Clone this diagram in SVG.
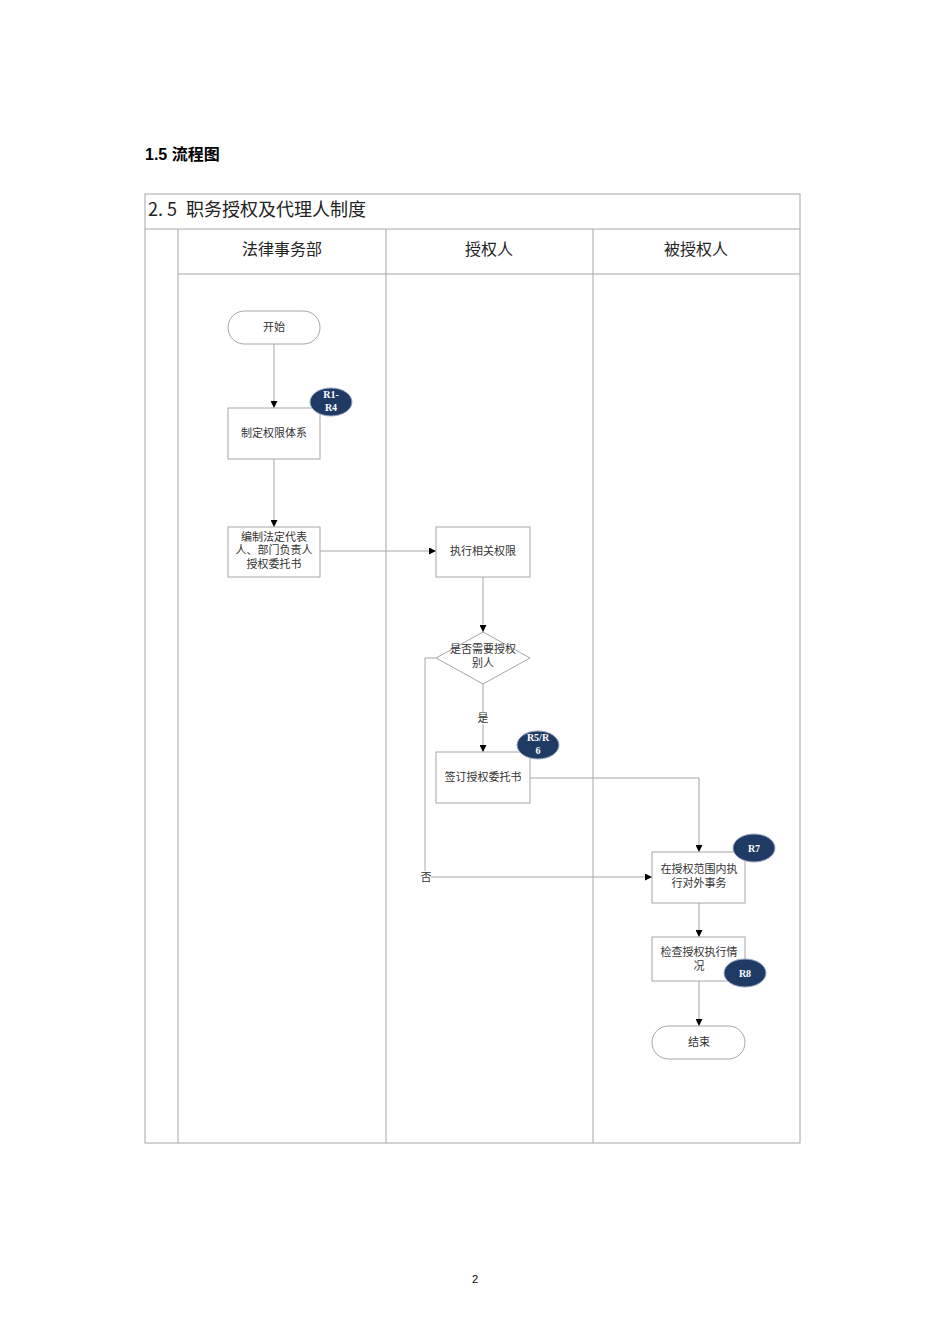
<svg xmlns="http://www.w3.org/2000/svg" width="950" height="1344" viewBox="0 0 950 1344">
<style>
.frame{fill:none;stroke:#a6a6a6;stroke-width:1}
.node{fill:#fff;stroke:#a6a6a6;stroke-width:1}
.t{font-family:"Liberation Serif","Noto Sans CJK SC",serif;font-size:11px;fill:#333;text-anchor:middle}
.h{font-family:"Noto Sans CJK SC",sans-serif;font-size:16px;fill:#222;text-anchor:middle}
.badge{fill:#1f3a64;stroke:#9aa8bf;stroke-width:1}
.bt{font-family:"Liberation Serif",serif;font-size:10px;font-weight:bold;fill:#fff;text-anchor:middle}
.c{fill:none;stroke:#a6a6a6;stroke-width:1}
</style>
<defs>
<marker id="arr" viewBox="0 0 10 10" refX="10" refY="5" markerWidth="7" markerHeight="7" orient="auto" markerUnits="userSpaceOnUse">
<path d="M0,0 L10,5 L0,10 z" fill="#000"/>
</marker>
</defs>
<rect width="950" height="1344" fill="#fff"/>
<text x="145" y="160" font-family="Liberation Sans,Noto Sans CJK SC,sans-serif" font-size="16" font-weight="bold" fill="#000">1.5 流程图</text>
<g id="frame">
<rect class="frame" x="145" y="194" width="655" height="949"/>
<line class="frame" x1="145" y1="229" x2="800" y2="229"/>
<line class="frame" x1="178" y1="229" x2="178" y2="1143"/>
<line class="frame" x1="178" y1="274" x2="800" y2="274"/>
<line class="frame" x1="386" y1="229" x2="386" y2="1143"/>
<line class="frame" x1="593" y1="229" x2="593" y2="1143"/>
<text x="148" y="216" font-family="Noto Sans CJK SC,sans-serif" font-size="18" fill="#222"><tspan>2. 5</tspan><tspan x="186">职务授权及代理人制度</tspan></text>
<text class="h" x="282" y="255">法律事务部</text>
<text class="h" x="489" y="255">授权人</text>
<text class="h" x="696" y="255">被授权人</text>
</g>
<g id="connectors">
<line class="c" x1="274" y1="344" x2="274" y2="408" marker-end="url(#arr)"/>
<line class="c" x1="274" y1="459" x2="274" y2="527" marker-end="url(#arr)"/>
<line class="c" x1="320" y1="551" x2="436" y2="551" marker-end="url(#arr)"/>
<line class="c" x1="483" y1="577" x2="483" y2="632" marker-end="url(#arr)"/>
<line class="c" x1="483" y1="684" x2="483" y2="752" marker-end="url(#arr)"/>
<rect x="478" y="712" width="10" height="12" fill="#fff"/>
<text class="t" x="483" y="722" font-size="9">是</text>
<polyline class="c" points="436,658 425,658 425,877 652,877" marker-end="url(#arr)"/>
<rect x="420" y="871" width="11" height="12" fill="#fff"/>
<text class="t" x="426" y="881" font-size="9">否</text>
<polyline class="c" points="530,778 699,778 699,852" marker-end="url(#arr)"/>
<line class="c" x1="699" y1="903" x2="699" y2="937" marker-end="url(#arr)"/>
<line class="c" x1="699" y1="981" x2="699" y2="1026" marker-end="url(#arr)"/>
</g>
<g id="n-start">
<rect class="node" x="228" y="311" width="92" height="33" rx="16.5"/>
<text class="t" x="274" y="331">开始</text>
</g>
<g id="n-zhiding">
<rect class="node" x="228" y="408" width="92" height="51"/>
<text class="t" x="274" y="437">制定权限体系</text>
</g>
<g id="b-r1r4">
<ellipse class="badge" cx="331" cy="402" rx="21" ry="14"/>
<text class="bt" x="331" y="398">R1-</text>
<text class="bt" x="331" y="411">R4</text>
</g>
<g id="n-bianzhi">
<rect class="node" x="228" y="527" width="92" height="50"/>
<text class="t" x="274" y="541">编制法定代表</text>
<text class="t" x="274" y="554">人、部门负责人</text>
<text class="t" x="274" y="568">授权委托书</text>
</g>
<g id="n-zhixing">
<rect class="node" x="436" y="527" width="94" height="50"/>
<text class="t" x="483" y="555">执行相关权限</text>
</g>
<g id="n-decision">
<polygon class="node" points="483,632 530,658 483,684 436,658"/>
<text class="t" x="483" y="653">是否需要授权</text>
<text class="t" x="483" y="667">别人</text>
</g>
<g id="n-qianding">
<rect class="node" x="436" y="752" width="94" height="51"/>
<text class="t" x="483" y="781">签订授权委托书</text>
</g>
<g id="b-r5r6">
<ellipse class="badge" cx="538" cy="745" rx="21" ry="14"/>
<text class="bt" x="538" y="741">R5/R</text>
<text class="bt" x="538" y="754">6</text>
</g>
<g id="n-zaishouquan">
<rect class="node" x="652" y="852" width="93" height="51"/>
<text class="t" x="699" y="873">在授权范围内执</text>
<text class="t" x="699" y="887">行对外事务</text>
</g>
<g id="b-r7">
<ellipse class="badge" cx="754" cy="848" rx="21" ry="14"/>
<text class="bt" x="754" y="852">R7</text>
</g>
<g id="n-jiancha">
<rect class="node" x="652" y="937" width="93" height="44"/>
<text class="t" x="699" y="956">检查授权执行情</text>
<text class="t" x="699" y="970">况</text>
</g>
<g id="b-r8">
<ellipse class="badge" cx="745" cy="973" rx="21" ry="14"/>
<text class="bt" x="745" y="977">R8</text>
</g>
<g id="n-end">
<rect class="node" x="652" y="1026" width="93" height="33" rx="16.5"/>
<text class="t" x="699" y="1046">结束</text>
</g>
<text x="475" y="1283" font-family="Liberation Sans,sans-serif" font-size="11" fill="#000" text-anchor="middle">2</text>
</svg>
